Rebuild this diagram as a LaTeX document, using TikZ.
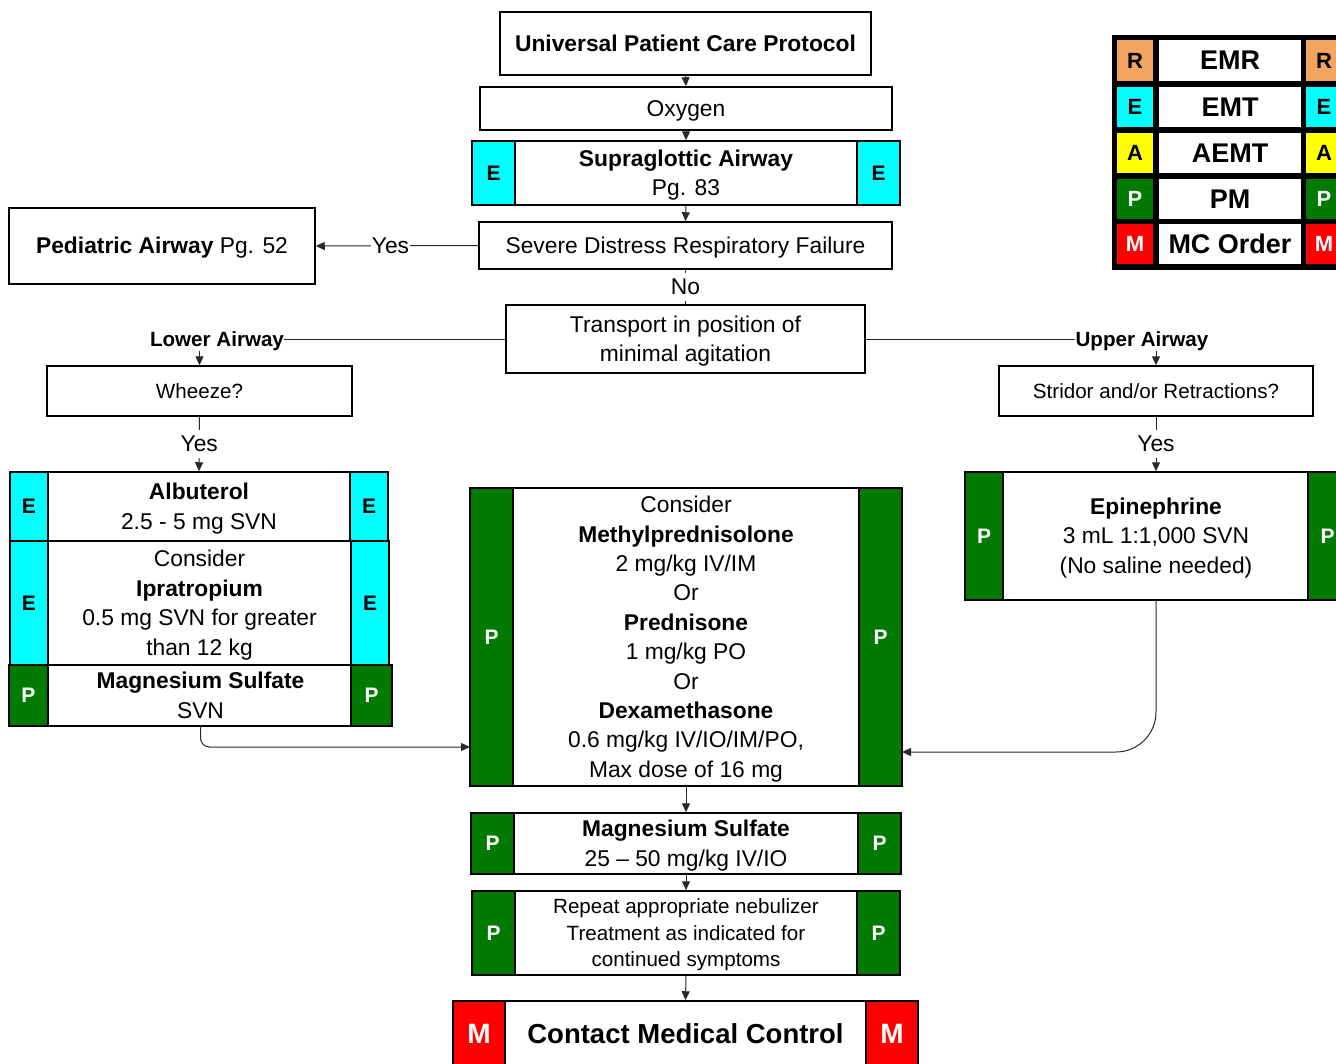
\documentclass[tikz,border=0pt]{standalone}
\usepackage{fontspec}
\setmainfont{Liberation Sans}
\usetikzlibrary{arrows.meta}
\definecolor{pgreen}{RGB}{0,122,0}
\definecolor{ecyan}{RGB}{0,255,255}
\definecolor{ryellow}{RGB}{255,255,0}
\definecolor{rorange}{RGB}{244,164,96}
\definecolor{mred}{RGB}{255,0,0}
\definecolor{lncol}{RGB}{40,40,40}
\newcommand\fsA{\fontsize{22.8}{29.4}\selectfont}
\newcommand\fsB{\fontsize{20.6}{26.5}\selectfont}
\newcommand\fsC{\fontsize{21}{25}\selectfont\bfseries}
\newcommand\fsM{\fontsize{28}{30}\selectfont\bfseries}
\newcommand\topstrut{\rule{0pt}{0.905em}}
\newcommand\botstrut{\rule[-0.212em]{0pt}{0.212em}}
\begin{document}
\begin{tikzpicture}[x=1pt,y=-1pt,
 vstrut/.style={execute at begin node={\topstrut}, execute at end node={\botstrut}},
 box/.style={draw=black, line width=1.5pt, fill=white, inner sep=0pt, align=center, font=\fsA, vstrut},
 bdg/.style={draw=black, line width=1.5pt, inner sep=0pt, font=\fsC, minimum width=43pt},
 bE/.style={bdg, fill=ecyan, text=black},
 bP/.style={bdg, fill=pgreen, text=white},
 bM/.style={bdg, fill=mred, text=white, font=\fsM, minimum width=52pt},
 lbl/.style={inner sep=1pt, fill=white, font=\fsA, vstrut},
 blbl/.style={inner sep=0pt, font={\fsB\bfseries}, vstrut},
 conn/.style={draw=lncol, line width=1pt, -{Triangle[length=9pt,width=8pt]}},
 lnk/.style={draw=lncol, line width=1pt},
 lgc/.style={inner sep=0pt, minimum width=36pt, font={\fontsize{22}{24}\selectfont\bfseries}},
 lgm/.style={inner sep=0pt, fill=white, minimum width=142pt, font={\fontsize{27}{30}\selectfont\bfseries}},
]
\clip (0,0) rectangle (1336,1063);
\fill[white] (0,0) rectangle (1336,1063);

% top chain
\node[box, font={\fsA\bfseries}, minimum width=371pt, minimum height=63pt] (upc) at (685.5,43.5) {Universal Patient Care Protocol};
\node[box, minimum width=412pt, minimum height=43pt] (oxy) at (686,108.5) {Oxygen};
\node[box, minimum width=428pt, minimum height=64pt] (sga) at (686,173) {\topstrut\textbf{Supraglottic Airway}\\Pg. 83\botstrut};
\node[bE, minimum height=64pt, anchor=west] (sgaL) at (sga.west) {E};
\node[bE, minimum height=64pt, anchor=east] (sgaR) at (sga.east) {E};
\node[box, minimum width=413pt, minimum height=47pt] (sev) at (685.5,245.5) {Severe Distress Respiratory Failure};
\node[box, minimum width=359pt, minimum height=68pt] (trn) at (685.5,339) {\topstrut Transport in position of\\minimal agitation\botstrut};
\node[box, minimum width=306pt, minimum height=76pt] (ped) at (162,246) {\textbf{Pediatric Airway} Pg. 52};

% left branch
\node[blbl] (low) at (217,339) {Lower Airway};
\node[box, font=\fsB, minimum width=305pt, minimum height=50pt] (whz) at (199.5,391) {Wheeze?};
\node[box, minimum width=378pt, minimum height=69pt] (alb) at (199,506.5) {\topstrut\textbf{Albuterol}\\2.5 - 5 mg SVN\botstrut};
\node[bE, minimum width=38pt, minimum height=69pt, anchor=west] (albL) at (alb.west) {E};
\node[bE, minimum width=38pt, minimum height=69pt, anchor=east] (albR) at (alb.east) {E};
\node[box, minimum width=379pt, minimum height=124pt] (ipr) at (199.5,603) {\topstrut Consider\\\textbf{Ipratropium}\\0.5 mg SVN for greater\\than 12 kg\botstrut};
\node[bE, minimum width=38pt, minimum height=124pt, anchor=west] (iprL) at (ipr.west) {E};
\node[bE, minimum width=38pt, minimum height=124pt, anchor=east] (iprR) at (ipr.east) {E};
\node[box, minimum width=383pt, minimum height=61pt] (mgs) at (200.5,695.5) {\topstrut\textbf{Magnesium Sulfate}\\SVN\botstrut};
\node[bP, minimum width=39pt, minimum height=61pt, anchor=west] (mgsL) at (mgs.west) {P};
\node[bP, minimum width=41pt, minimum height=61pt, anchor=east] (mgsR) at (mgs.east) {P};

% center
\node[box, minimum width=432pt, minimum height=298pt] (cen) at (686,637) {\topstrut Consider\\\textbf{Methylprednisolone}\\2 mg/kg IV/IM\\Or\\\textbf{Prednisone}\\1 mg/kg PO\\Or\\\textbf{Dexamethasone}\\0.6 mg/kg IV/IO/IM/PO,\\Max dose of 16 mg\botstrut};
\node[bP, minimum height=298pt, anchor=west] (cenL) at (cen.west) {P};
\node[bP, minimum height=298pt, anchor=east] (cenR) at (cen.east) {P};

% right branch
\node[blbl] (upp) at (1142,339) {Upper Airway};
\node[box, font=\fsB, minimum width=314pt, minimum height=50pt] (str) at (1156,391) {Stridor and/or Retractions?};
\node[box, minimum width=382pt, minimum height=128pt] (epi) at (1156,536) {\topstrut\textbf{Epinephrine}\\3 mL 1:1,000 SVN\\(No saline needed)\botstrut};
\node[bP, minimum width=38pt, minimum height=128pt, anchor=west] (epiL) at (epi.west) {P};
\node[bP, minimum width=39pt, minimum height=128pt, anchor=east] (epiR) at (epi.east) {P};

% bottom chain
\node[box, minimum width=430pt, minimum height=61pt] (mg2) at (686,843.5) {\topstrut\textbf{Magnesium Sulfate}\\25 – 50 mg/kg IV/IO\botstrut};
\node[bP, minimum height=61pt, anchor=west] (mg2L) at (mg2.west) {P};
\node[bP, minimum height=61pt, anchor=east] (mg2R) at (mg2.east) {P};
\node[box, font=\fsB, minimum width=428pt, minimum height=84pt] (rep) at (686,933) {\topstrut Repeat appropriate nebulizer\\Treatment as indicated for\\continued symptoms\botstrut};
\node[bP, minimum height=84pt, anchor=west] (repL) at (rep.west) {P};
\node[bP, minimum height=84pt, anchor=east] (repR) at (rep.east) {P};
\node[box, font={\fontsize{27.5}{30}\selectfont\bfseries}, minimum width=465pt, minimum height=66pt] (mc) at (685.5,1034) {Contact Medical Control};
\node[bM, minimum height=66pt, anchor=west] (mcL) at (mc.west) {M};
\node[bM, minimum height=66pt, anchor=east] (mcR) at (mc.east) {M};

% connectors
\draw[conn] (upc.south) -- (oxy.north);
\draw[conn] (oxy.south) -- (sga.north);
\draw[conn] (sga.south) -- (sev.north);
\draw[lnk] (sev.south) -- node[lbl]{No} (trn.north);
\draw[conn] (sev.west) -- node[lbl, pos=0.54]{Yes} (ped.east);
\draw[lnk] (trn.west) -- (low.east);
\draw[lnk] (trn.east) -- (upp.west);
\draw[conn] (low.south -| whz.north) -- (whz.north);
\draw[conn] (upp.south -| str.north) -- (str.north);
\draw[conn] (whz.south) -- node[lbl]{Yes} (alb.north);
\draw[conn] (str.south) -- node[lbl]{Yes} (epi.north);
\coordinate (inL) at (470,747);
\coordinate (inR) at (902,752);
\draw[conn, rounded corners=9pt] (mgs.south) |- (inL);
\draw[conn, rounded corners=40pt] (epi.south) |- (inR);
\draw[conn] (cen.south) -- (mg2.north);
\draw[conn] (mg2.south) -- (rep.north);
\draw[conn] (rep.south) -- (mc.north);

% legend
\fill[black] (1112,35) rectangle (1345,270);
\node[lgc, fill=rorange, minimum height=41pt] (lg1a) at (1135,60.5) {R};
\node[lgm, minimum height=41pt] (lg1b) at (1230,60.5) {EMR};
\node[lgc, fill=rorange, minimum height=41pt] (lg1c) at (1324,60.5) {R};
\node[lgc, fill=ecyan, minimum height=40pt] (lg2a) at (1135,107) {E};
\node[lgm, minimum height=40pt] (lg2b) at (1230,107) {EMT};
\node[lgc, fill=ecyan, minimum height=40pt] (lg2c) at (1324,107) {E};
\node[lgc, fill=ryellow, minimum height=40pt] (lg3a) at (1135,153) {A};
\node[lgm, minimum height=40pt] (lg3b) at (1230,153) {AEMT};
\node[lgc, fill=ryellow, minimum height=40pt] (lg3c) at (1324,153) {A};
\node[lgc, fill=pgreen, text=white, minimum height=40pt] (lg4a) at (1135,199) {P};
\node[lgm, minimum height=40pt] (lg4b) at (1230,199) {PM};
\node[lgc, fill=pgreen, text=white, minimum height=40pt] (lg4c) at (1324,199) {P};
\node[lgc, fill=mred, text=white, minimum height=40pt] (lg5a) at (1135,244) {M};
\node[lgm, minimum height=40pt] (lg5b) at (1230,244) {MC Order};
\node[lgc, fill=mred, text=white, minimum height=40pt] (lg5c) at (1324,244) {M};
\end{tikzpicture}
\end{document}
